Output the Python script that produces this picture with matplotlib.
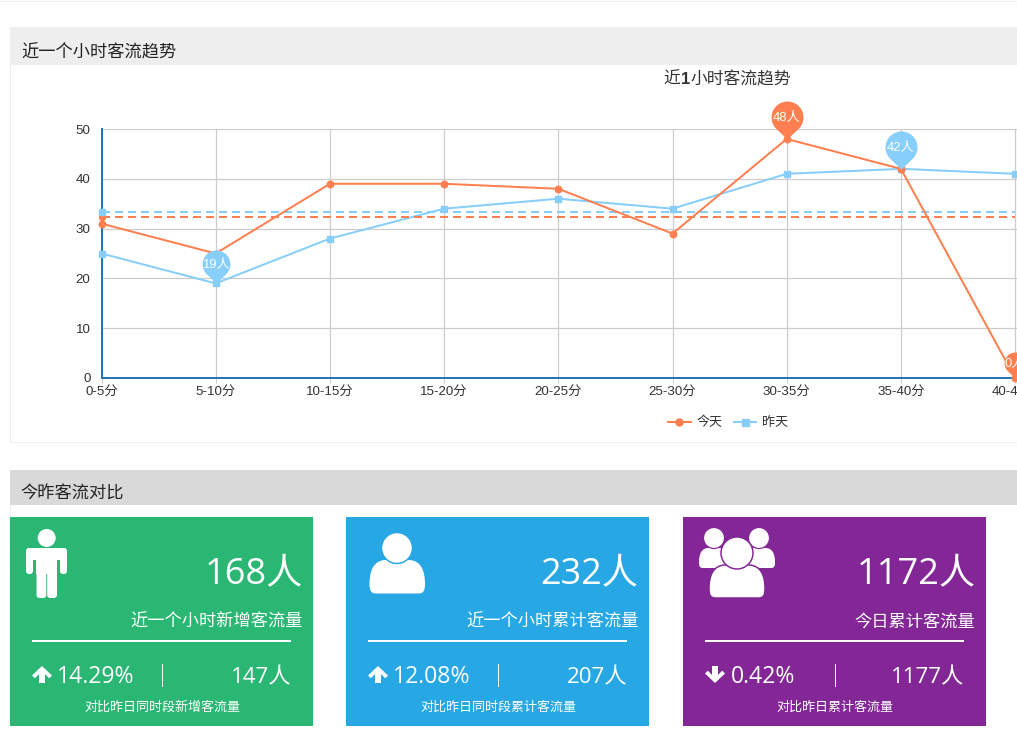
"""Passenger flow dashboard: trend chart on top, three comparison cards below."""
import matplotlib
matplotlib.use('Agg')
import matplotlib.pyplot as plt
import matplotlib.patches as patches
from matplotlib.path import Path
from matplotlib.lines import Line2D
import numpy as np

W, H = 1017, 729
CJK = ['Liberation Sans', 'Noto Sans CJK SC', 'DejaVu Sans']
CARD_FONT = ['Open Sans', 'Noto Sans CJK SC', 'DejaVu Sans']

categories = ['0-5分', '5-10分', '10-15分', '15-20分', '20-25分', '25-30分', '30-35分', '35-40分', '40-45分']
today = [31, 25, 39, 39, 38, 29, 48, 42, 0]
yesterday = [25, 19, 28, 34, 36, 34, 41, 42, 41]
today_avg = 32.3
yesterday_avg = 33.3
y_ticks = [0, 10, 20, 30, 40, 50]

card_values = ['168人', '232人', '1172人']
card_labels = ['近一个小时新增客流量', '近一个小时累计客流量', '今日累计客流量']
card_pcts = ['14.29%', '12.08%', '0.42%']
card_prev = ['147人', '207人', '1177人']
card_notes = ['对比昨日同时段新增客流量', '对比昨日同时段累计客流量', '对比昨日累计客流量']
card_up = [True, True, False]

TODAY_C = '#ff7f50'
YEST_C = '#87cefa'
CARD_COLORS = ['#2ab673', '#27a7e3', '#832796']
CARD_LEFT = [10, 346, 683]


def px(v):
    # pixels to points at dpi 100
    return v * 0.72


def pin_marker(r=16.0, c=22.0):
    """Map pin with its tip at (0, 0)."""
    arc = Path.arc(-42, 222)
    verts = arc.vertices * r + np.array([0, c])
    codes = list(arc.codes)
    verts = np.vstack([verts, [0, 0], [0, 0]])
    codes = codes + [Path.LINETO, Path.CLOSEPOLY]
    return Path(verts, codes)


def round_box(ax, x0, y0, x1, y1, rad, color, zorder=3):
    ax.add_patch(patches.FancyBboxPatch((x0 + rad, y0 + rad), x1 - x0 - 2 * rad, y1 - y0 - 2 * rad,
                                        boxstyle=f'round,pad={rad},rounding_size={rad}',
                                        fc=color, ec='none', zorder=zorder))


def bust(ax, x0, x1, top, bottom, face, edge, zorder=3):
    """Rounded shoulders shape used by the user icons."""
    w = x1 - x0
    h = bottom - top
    verts = [(x0 + w * 0.28, top), (x0 + w * 0.72, top),
             (x1 - w * 0.08, top + h * 0.02), (x1, top + h * 0.3), (x1, top + h * 0.72),
             (x1, top + h * 0.92), (x1 - w * 0.03, bottom), (x1 - w * 0.12, bottom),
             (x0 + w * 0.12, bottom),
             (x0 + w * 0.03, bottom), (x0, top + h * 0.92), (x0, top + h * 0.72),
             (x0, top + h * 0.3), (x0 + w * 0.08, top + h * 0.02), (x0 + w * 0.28, top),
             (x0 + w * 0.28, top)]
    codes = [Path.MOVETO, Path.LINETO, Path.CURVE4, Path.CURVE4, Path.CURVE4,
             Path.CURVE4, Path.CURVE4, Path.CURVE4, Path.LINETO,
             Path.CURVE4, Path.CURVE4, Path.CURVE4,
             Path.CURVE4, Path.CURVE4, Path.CURVE4, Path.CLOSEPOLY]
    ax.add_patch(patches.PathPatch(Path(verts, codes), fc=face, ec=edge, lw=px(1.5), zorder=zorder))


def person_icon(ax, dx):
    ax.add_patch(patches.Circle((46.7 + dx, 538), 9, fc='white', ec='none', zorder=3))
    round_box(ax, 26 + dx, 548, 67 + dx, 560, 5, 'white')
    round_box(ax, 26 + dx, 548, 33 + dx, 574, 3, 'white')
    round_box(ax, 60 + dx, 548, 67 + dx, 574, 3, 'white')
    ax.add_patch(patches.Rectangle((36 + dx, 548), 21, 26, fc='white', ec='none', zorder=3))
    round_box(ax, 36.5 + dx, 565, 46.3 + dx, 598, 3, 'white')
    round_box(ax, 47.2 + dx, 565, 57 + dx, 598, 3, 'white')


def user_icon(ax, color):
    bust(ax, 369.5, 425, 560, 593.5, 'white', 'none')
    ax.add_patch(patches.Circle((397, 548), 15.5, fc='white', ec=color, lw=px(1.5), zorder=4))


def group_icon(ax, color):
    bust(ax, 699, 731, 548, 568, 'white', 'none')
    bust(ax, 743, 775, 548, 568, 'white', 'none')
    ax.add_patch(patches.Circle((714, 538), 10.5, fc='white', ec=color, lw=px(1.2), zorder=4))
    ax.add_patch(patches.Circle((759, 538), 10.5, fc='white', ec=color, lw=px(1.2), zorder=4))
    bust(ax, 709, 765, 565, 598, 'white', color, zorder=5)
    ax.add_patch(patches.Circle((737, 553), 16, fc='white', ec=color, lw=px(1.5), zorder=6))


def arrow(ax, cx, cy, up):
    s = -1 if up else 1
    pts = [(0, 8.5), (10, -1), (7.2, -3.8), (3, 0.4), (3, -8.5), (-3, -8.5),
           (-3, 0.4), (-7.2, -3.8), (-10, -1)]
    pts = [(cx + a, cy + s * b) for a, b in pts]
    ax.add_patch(patches.Polygon(pts, closed=True, fc='white', ec='none', zorder=3))


fig = plt.figure(figsize=(W / 100, H / 100), dpi=100, facecolor='white')

# page layer in pixel coordinates
bg = fig.add_axes([0, 0, 1, 1], zorder=0)
bg.set_xlim(0, W)
bg.set_ylim(H, 0)
bg.axis('off')

bg.plot([0, W], [0.5, 0.5], color='#eeeeee', lw=px(1))
bg.add_patch(patches.Rectangle((9.5, 27), W, 415, fc='white', ec='#eeeeee', lw=px(1)))
bg.add_patch(patches.Rectangle((10, 27), W, 38, fc='#eeeeee', ec='none'))
bg.add_patch(patches.Rectangle((10, 470), W, 35, fc='#d9d9d9', ec='none'))
bg.plot([9.5, 9.5], [505, 517], color='#eeeeee', lw=px(1))
bg.text(21.5, 52, '近一个小时客流趋势', fontsize=12.4, color='#222222', family=CJK, ha='left', va='center')
bg.text(20.5, 494, '今昨客流对比', fontsize=12.4, color='#222222', family=CJK, ha='left', va='center')
# the 1 is heavier than the rest of the title
bg.text(663, 79, '近', fontsize=12.1, color='#333333', family=CJK, ha='left', va='center')
bg.text(680.5, 79, '1', fontsize=12.1, color='#333333', family=CJK, fontweight='bold', ha='left', va='center')
bg.text(690.5, 79, '小时客流趋势', fontsize=12.1, color='#333333', family=CJK, ha='left', va='center')

# cards
for i, left in enumerate(CARD_LEFT):
    dx = left - 10
    color = CARD_COLORS[i]
    bg.add_patch(patches.Rectangle((left, 517), 303, 209, fc=color, ec='none', zorder=2))
    bg.text(302.5 + dx, 574, card_values[i], fontsize=26, color='white', family=CARD_FONT,
            ha='right', va='center', zorder=3)
    bg.text(302.5 + dx, 623, card_labels[i], fontsize=12.4, color='white', family=CARD_FONT,
            ha='right', va='center', zorder=3)
    bg.plot([33 + dx, 290 + dx], [641, 641], color='white', lw=px(2), zorder=3)
    bg.plot([161.5 + dx, 161.5 + dx], [664, 686], color='white', lw=px(1), zorder=3)
    arrow(bg, 42 + dx, 674.5, card_up[i])
    bg.text(58 + dx - (1 if card_up[i] else 0), 677, card_pcts[i], fontsize=16.6, color='white', family=CARD_FONT,
            ha='left', va='center', zorder=3)
    bg.text(291 + dx, 678, card_prev[i], fontsize=16, color='white', family=CARD_FONT,
            ha='right', va='center', zorder=3)
    bg.text(162 + dx, 707, card_notes[i], fontsize=9.4, color='white', family=CARD_FONT,
            ha='center', va='center', zorder=3)

person_icon(bg, 0)
user_icon(bg, CARD_COLORS[1])
group_icon(bg, CARD_COLORS[2])

# line chart, runs past the right edge like the screenshot
x_left, x_step = 101.5, 114.2
y_top, y_bottom = 129, 378
ax = fig.add_axes([x_left / W, 1 - y_bottom / H, x_step * 9 / W, (y_bottom - y_top) / H], zorder=1)
ax.patch.set_alpha(0)
x = np.arange(len(categories))
ax.set_xlim(0, 9)
ax.set_ylim(0, 50)
ax.set_xticks(x)
ax.set_xticklabels(categories, family=CJK, fontsize=9.6, color='#333333')
ax.set_yticks(y_ticks)
ax.set_yticklabels([str(t) for t in y_ticks], family=CJK, fontsize=9.6, color='#333333')
ax.tick_params(axis='x', length=px(5), width=px(1), color='#cccccc', pad=px(3))
ax.tick_params(axis='y', length=0, pad=px(11))
ax.grid(True, color='#cccccc', lw=px(1.2))
ax.set_axisbelow(True)
for side in ['top', 'right']:
    ax.spines[side].set_visible(False)
ax.plot([0, 9], [50, 50], color='#cccccc', lw=px(1.5), zorder=1)
for side in ['left', 'bottom']:
    ax.spines[side].set_color('#1f78b4')
    ax.spines[side].set_linewidth(px(2))

ax.plot(x, today, color=TODAY_C, lw=px(2), marker='o', ms=px(6.5), clip_on=False, zorder=4)
ax.plot(x, yesterday, color=YEST_C, lw=px(2), marker='s', ms=px(6.5), clip_on=False, zorder=3)
ax.plot([0, 8], [today_avg, today_avg], color=TODAY_C, lw=px(2), dashes=(4, 2.5), zorder=3)
ax.plot([0, 8], [yesterday_avg, yesterday_avg], color=YEST_C, lw=px(2), dashes=(4, 2.5), zorder=3)
ax.plot(0, today_avg, 'o', color=TODAY_C, ms=px(6), clip_on=False, zorder=4)
ax.plot(0, yesterday_avg, 's', color=YEST_C, ms=px(6), clip_on=False, zorder=4)

# max / min pins: series, index, pin height in px
pins = [(today, TODAY_C, 6, 38), (yesterday, YEST_C, 7, 38), (yesterday, YEST_C, 1, 33), (today, TODAY_C, 8, 26)]
marker = pin_marker()
for values, color, idx, height in pins:
    ax.plot(idx, values[idx], marker=marker, ms=px(height * 2), color=color, mec='none',
            ls='none', clip_on=False, zorder=6)
    ax.annotate(f'{values[idx]}人', (idx, values[idx]), xytext=(0, px(height * 0.58)),
                textcoords='offset points', color='white', fontsize=9.4, family=CJK,
                ha='center', va='center', zorder=7)

handles = [Line2D([0], [0], color=TODAY_C, lw=px(2), marker='o', ms=px(7), label='今天'),
           Line2D([0], [0], color=YEST_C, lw=px(2), marker='s', ms=px(7), label='昨天')]
fig.legend(handles=handles, loc='center', bbox_to_anchor=(728 / W, 1 - 423 / H), ncol=2, frameon=False,
           prop={'family': CJK, 'size': 9.4}, labelcolor='#333333', handlelength=1.7,
           handletextpad=0.45, columnspacing=0.85)

fig.savefig('out.png', dpi=100, facecolor='white')
plt.close(fig)
